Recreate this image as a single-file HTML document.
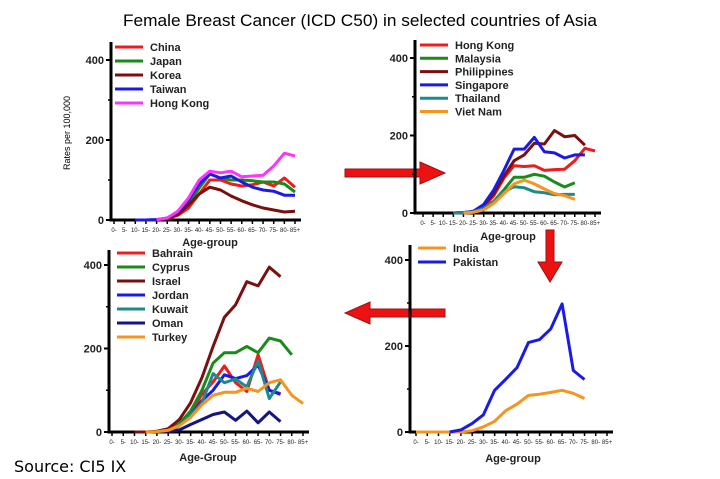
<!DOCTYPE html>
<html><head><meta charset="utf-8"><style>
body{margin:0;background:#fff;}
svg{display:block;font-family:"Liberation Sans",sans-serif;}
</style></head><body>
<svg id="s" width="720" height="479" viewBox="0 0 720 479" xmlns="http://www.w3.org/2000/svg">
<text x="360" y="26" font-size="16.5" text-anchor="middle" font-family="Liberation Sans, sans-serif" textLength="474" lengthAdjust="spacingAndGlyphs">Female Breast Cancer (ICD C50) in selected countries of Asia</text>
<text x="14" y="472" font-size="16" font-family="DejaVu Sans, sans-serif">Source: CI5 IX</text>
<text x="70" y="133" font-size="9" text-anchor="middle" transform="rotate(-90 70 133)">Rates per 100,000</text>
<polygon points="345,169 420,169 420,162 445,173 420,184 420,177 345,177" fill="#ee1111" stroke="#991111" stroke-width="1"/>
<polygon points="445,309 370,309 370,302 345,313 370,324 370,317 445,317" fill="#ee1111" stroke="#991111" stroke-width="1"/>
<polygon points="546,230 554,230 554,262 562,262 550,282 538,262 546,262" fill="#ee1111" stroke="#991111" stroke-width="1"/>
</svg>
<script>
var C={red:"#ee1c1c",green:"#1a8a1a",maroon:"#7a0f0f",blue:"#1a1ae6",mag:"#ff33ff",teal:"#1f8a8a",orange:"#f7941d",navy:"#141482"};
var labs=["0-","5-","10-","15-","20-","25-","30-","35-","40-","45-","50-","55-","60-","65-","70-","75-","80-","85+"];
var s=document.getElementById("s"),NS="http://www.w3.org/2000/svg";
function el(t,a,txt){var e=document.createElementNS(NS,t);for(var k in a)e.setAttribute(k,a[k]);if(txt!=null)e.textContent=txt;s.appendChild(e);return e;}
function panel(p){
 var yv=function(v){return p.y0-(p.y0-p.y400)*v/400;};
 var xv=function(i){return p.x0+i*(p.x1-p.x0)/17;};
 el("line",{x1:p.ax,y1:p.top,x2:p.ax,y2:p.y0+1.5,stroke:"#000","stroke-width":3});
 el("line",{x1:p.ax-1.5,y1:p.y0,x2:p.x1+6,y2:p.y0,stroke:"#000","stroke-width":3});
 [0,200,400].forEach(function(v){el("line",{x1:p.ax-5,y1:yv(v),x2:p.ax,y2:yv(v),stroke:"#000","stroke-width":2});
  el("text",{x:p.ax-7,y:yv(v)+4,"font-size":11,"font-weight":"bold","text-anchor":"end",fill:"#222"},String(v));});
 [100,300].forEach(function(v){el("line",{x1:p.ax-3,y1:yv(v),x2:p.ax,y2:yv(v),stroke:"#000","stroke-width":1.5});});
 labs.forEach(function(l,i){var x=xv(i);el("line",{x1:x,y1:p.y0,x2:x,y2:p.y0+4,stroke:"#000","stroke-width":1.5});
  el("text",{x:x,y:p.y0+12,"font-size":6,"text-anchor":"middle",fill:"#222"},l);});
 el("text",{x:p.tx,y:p.ty,"font-size":11,"font-weight":"bold","text-anchor":"middle",fill:"#222"},p.title);
 p.series.forEach(function(se,k){
  var pts=[];for(var i in se.d)pts.push(xv(+i).toFixed(1)+","+yv(se.d[i]).toFixed(1));
  el("polyline",{points:pts.join(" "),fill:"none",stroke:se.c,"stroke-width":3,"stroke-linejoin":"round"});
  var ly=p.ly+k*p.ld;
  el("line",{x1:p.lx,y1:ly,x2:p.lx+28,y2:ly,stroke:se.c,"stroke-width":3});
  el("text",{x:p.lx+35,y:ly+4,"font-size":11,"font-weight":"bold",fill:"#222"},se.n);
 });
}
function D(start,arr){var o={};arr.forEach(function(v,i){o[start+i]=v;});return o;}
panel({ax:111,top:42,y0:220,y400:60,x0:114,x1:295,tx:210,ty:246,title:"Age-group",lx:115,ly:47,ld:14,series:[
 {n:"China",c:C.red,d:D(2,[0,0,1,3,12,30,65,100,100,90,85,88,95,85,105,82])},
 {n:"Japan",c:C.green,d:D(4,[1,4,15,40,80,115,105,100,100,98,95,95,90,70])},
 {n:"Korea",c:C.maroon,d:D(4,[1,4,14,38,65,82,75,60,48,38,30,25,20,22])},
 {n:"Taiwan",c:C.blue,d:D(2,[0,0,1,5,20,50,90,115,105,110,95,82,75,72,62,62])},
 {n:"Hong Kong",c:C.mag,d:D(4,[1,5,22,55,100,122,118,122,108,110,112,135,167,160])}]});
panel({ax:415,top:40,y0:213,y400:58,x0:423,x1:595,tx:508,ty:240,title:"Age-group",lx:420,ly:45,ld:13.3,series:[
 {n:"Hong Kong",c:C.red,d:D(3,[0,1,3,15,45,90,122,120,122,110,112,113,135,167,160])},
 {n:"Malaysia",c:C.green,d:D(3,[0,1,3,12,30,60,92,92,100,95,80,67,78])},
 {n:"Philippines",c:C.maroon,d:D(3,[0,1,4,20,50,95,135,150,180,178,213,197,200,175])},
 {n:"Singapore",c:C.blue,d:D(3,[0,1,5,22,60,110,165,165,195,158,155,142,150,150])},
 {n:"Thailand",c:C.teal,d:D(3,[0,1,3,12,30,55,68,65,55,52,47,48,48])},
 {n:"Viet Nam",c:C.orange,d:D(4,[0,2,8,25,50,75,85,75,62,50,45,35])}]});
panel({ax:109,top:250,y0:432,y400:265,x0:112,x1:303,tx:208,ty:461,title:"Age-Group",lx:117,ly:253,ld:14,series:[
 {n:"Bahrain",c:C.red,d:D(5,[2,15,45,90,120,158,118,97,185,100,92])},
 {n:"Cyprus",c:C.green,d:D(5,[3,20,50,100,165,190,190,205,190,225,218,185])},
 {n:"Israel",c:C.maroon,d:D(2,[0,0,2,8,30,70,130,205,275,305,360,350,395,372])},
 {n:"Jordan",c:C.blue,d:D(5,[3,15,40,75,100,137,128,135,160,100,90])},
 {n:"Kuwait",c:C.teal,d:D(5,[3,15,40,70,140,118,127,108,170,80,120])},
 {n:"Oman",c:C.navy,d:D(4,[0,1,5,18,30,42,48,28,50,22,48,25])},
 {n:"Turkey",c:C.orange,d:D(3,[0,1,4,15,35,65,88,95,95,105,97,118,125,88,68])}]});
panel({ax:410,top:245,y0:432,y400:260,x0:416,x1:607,tx:513,ty:462,title:"Age-group",lx:418,ly:248,ld:14,series:[
 {n:"India",c:C.orange,d:D(0,[0,0,0,0,0,3,12,25,50,65,85,88,92,97,90,78])},
 {n:"Pakistan",c:C.blue,d:D(3,[0,5,20,40,97,123,150,208,215,240,298,143,122])}]});
</script>
</body></html>
